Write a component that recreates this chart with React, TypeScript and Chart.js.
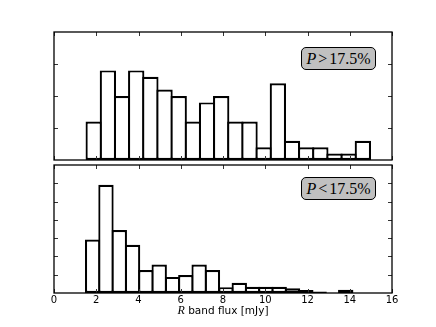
import React, { useEffect, useRef } from "react";
import { Chart, registerables } from "chart.js";

Chart.register(...registerables);

// Histogram bin centres (R band flux, mJy) and bar heights
const topBinCenters = [1.88, 2.551, 3.221, 3.892, 4.562, 5.233, 5.903, 6.574, 7.244, 7.915, 8.585, 9.256, 9.926, 10.597, 11.267, 11.938, 12.608, 13.279, 13.949, 14.62];
const topCounts = [6, 14, 10, 14, 13, 11, 10, 6, 9, 10, 6, 6, 2, 12, 3, 2, 2, 1, 1, 3];

const bottomBinCenters = [1.83, 2.46, 3.09, 3.72, 4.35, 4.98, 5.61, 6.24, 6.87, 7.5, 8.14, 8.77, 9.4, 10.03, 10.66, 11.29, 11.92, 12.55, 13.18, 13.81];
const bottomCounts = [14.6, 29.6, 17.2, 13.2, 6.3, 7.8, 4.4, 4.9, 7.8, 6.3, 1.6, 2.8, 1.7, 1.7, 1.7, 1.3, 0.8, 0.4, 0, 0.9];

const xTickValues = [0, 2, 4, 6, 8, 10, 12, 14, 16];
const topYTicks = [5, 10, 15];
const bottomYTicks = [5, 10, 15, 20, 25, 30];
const topYMax = 20;
const bottomYMax = 35;

const topLabelRel = ">";
const bottomLabelRel = "<";
const labelValue = "17.5%";
const xTitleRest = " band flux [mJy]";

const framePlugin = {
  id: "frame",
  afterDatasetsDraw(chart: any, _args: any, opts: any) {
    const { ctx, chartArea: a, scales } = chart;
    const x = scales.x;
    const y = scales.y;
    ctx.save();
    ctx.strokeStyle = "#333";
    ctx.lineWidth = 1;
    ctx.beginPath();
    for (const v of opts.xTicks || []) {
      const px = Math.round(x.getPixelForValue(v)) + 0.5;
      ctx.moveTo(px, a.top);
      ctx.lineTo(px, a.top + 4);
      ctx.moveTo(px, a.bottom);
      ctx.lineTo(px, a.bottom - 4);
    }
    for (const v of opts.yTicks || []) {
      const py = Math.round(y.getPixelForValue(v)) + 0.5;
      ctx.moveTo(a.left, py);
      ctx.lineTo(a.left + 4, py);
      ctx.moveTo(a.right, py);
      ctx.lineTo(a.right - 4, py);
    }
    ctx.stroke();
    ctx.strokeStyle = "#000";
    ctx.lineWidth = 1.3;
    ctx.strokeRect(a.left, a.top, a.right - a.left, a.bottom - a.top);
    ctx.restore();
  },
};

function makeConfig(
  centers: number[],
  counts: number[],
  yMax: number,
  yTicks: number[],
  showX: boolean,
  padding: any
): any {
  return {
    type: "bar",
    data: {
      datasets: [
        {
          data: centers.map((c, i) => ({ x: c, y: counts[i] })),
          backgroundColor: "#ffffff",
          borderColor: "#000000",
          borderWidth: 2.2,
          borderSkipped: false,
          barPercentage: 1.155,
          categoryPercentage: 1,
        },
      ],
    },
    options: {
      animation: false,
      responsive: false,
      maintainAspectRatio: false,
      layout: { padding },
      plugins: {
        legend: { display: false },
        tooltip: { enabled: false },
        frame: { xTicks: xTickValues, yTicks },
      },
      scales: {
        x: {
          type: "linear",
          min: 0,
          max: 16,
          offset: false,
          display: showX,
          grid: { display: false, drawTicks: false },
          border: { display: false },
          ticks: {
            stepSize: 2,
            padding: 1,
            maxRotation: 0,
            color: "#000",
            font: { family: "DejaVu Sans", size: 10 },
          },
        },
        y: {
          min: 0,
          max: yMax,
          display: false,
        },
      },
    },
    plugins: [framePlugin],
  };
}

const boxStyle = (top: number): React.CSSProperties => ({
  position: "absolute",
  left: 301,
  top,
  width: 75,
  height: 23,
  boxSizing: "border-box",
  border: "1px solid #000",
  borderRadius: 5,
  background: "#c0c0c0",
  display: "flex",
  alignItems: "center",
  justifyContent: "center",
  fontFamily: "'Liberation Serif', serif",
  fontSize: 16,
  color: "#000",
  lineHeight: "16px",
});

export default function App() {
  const topRef = useRef<HTMLCanvasElement>(null);
  const botRef = useRef<HTMLCanvasElement>(null);

  useEffect(() => {
    const c1 = new Chart(
      topRef.current as HTMLCanvasElement,
      makeConfig(topBinCenters, topCounts, topYMax, topYTicks, false, { left: 54, right: 44, top: 32, bottom: 3 })
    );
    const c2 = new Chart(
      botRef.current as HTMLCanvasElement,
      makeConfig(bottomBinCenters, bottomCounts, bottomYMax, bottomYTicks, true, { left: 54, right: 44, top: 2, bottom: 20 })
    );
    return () => {
      c1.destroy();
      c2.destroy();
    };
  }, []);

  return (
    <div style={{ position: "absolute", left: 0, top: 0, width: 436, height: 327, background: "#fff", overflow: "hidden" }}>
      <canvas ref={topRef} width={436} height={163} style={{ position: "absolute", left: 0, top: 0 }} />
      <canvas ref={botRef} width={436} height={164} style={{ position: "absolute", left: 0, top: 163 }} />
      <div style={boxStyle(47)}>
        <i>P</i>
        <span style={{ margin: "0 2px" }}>{topLabelRel}</span>
        <span>{labelValue}</span>
      </div>
      <div style={boxStyle(177)}>
        <i>P</i>
        <span style={{ margin: "0 2px" }}>{bottomLabelRel}</span>
        <span>{labelValue}</span>
      </div>
      <div
        style={{
          position: "absolute",
          left: 54,
          width: 338,
          top: 304,
          textAlign: "center",
          fontFamily: "'DejaVu Sans', sans-serif",
          fontSize: 10.5,
          lineHeight: "13px",
          color: "#000",
          whiteSpace: "pre",
        }}
      >
        <i style={{ fontFamily: "'Liberation Serif', serif", fontSize: 12 }}>R</i>
        {xTitleRest}
      </div>
    </div>
  );
}
